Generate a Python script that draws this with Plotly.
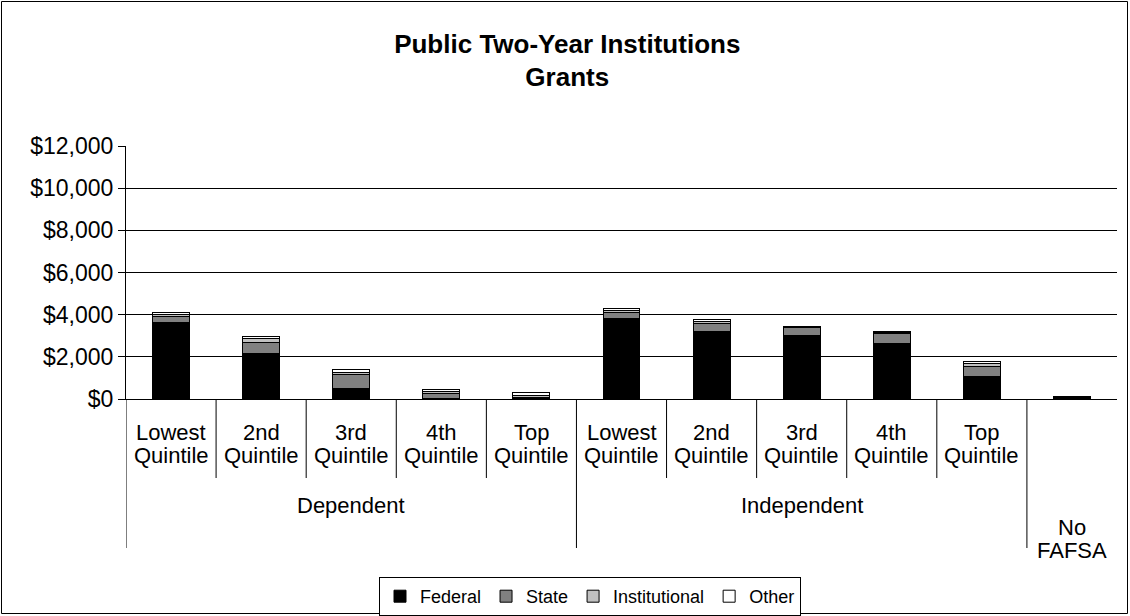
import plotly.graph_objects as go

# Grant amounts by income quintile, stacked by source
categories = ["Lowest<br>Quintile", "2nd<br>Quintile", "3rd<br>Quintile", "4th<br>Quintile", "Top<br>Quintile",
              "Lowest<br>Quintile", "2nd<br>Quintile", "3rd<br>Quintile", "4th<br>Quintile", "Top<br>Quintile",
              ""]
groups = ["Dependent", "Independent", "No<br>FAFSA"]
group_sizes = [5, 5, 1]

federal = [3650, 2140, 490, 40, 20, 3830, 3200, 3000, 2610, 1090, 40]
state = [240, 560, 650, 200, 30, 285, 400, 400, 490, 475, 20]
institutional = [120, 150, 140, 100, 130, 100, 90, 30, 70, 130, 30]
other = [90, 120, 120, 130, 140, 60, 60, 20, 45, 95, 20]

y_ticks = [0, 2000, 4000, 6000, 8000, 10000, 12000]
y_tick_text = ["$0", "$2,000", "$4,000", "$6,000", "$8,000", "$10,000", "$12,000"]

series = [("Federal", federal, "#000000"),
          ("State", state, "#808080"),
          ("Institutional", institutional, "#c0c0c0"),
          ("Other", other, "#ffffff")]

FONT = "Liberation Sans, Arial, sans-serif"
LABEL_SIZE = 22
LINE_GAP = 23
W, H = 1130, 616
ML, MR, MT, MB = 126, 13, 146, 217
PW, PH = W - ML - MR, H - MT - MB

xs = list(range(len(categories)))

fig = go.Figure()
for name, vals, color in series:
    fig.add_trace(go.Bar(
        x=xs, y=vals, name=name, width=0.41,
        marker=dict(color=color, line=dict(color="#000000", width=1)),
    ))


def py(px_below):
    # pixel offset below the plot bottom -> paper coordinate
    return -px_below / PH


shapes = []
group_edges = [-0.5]
acc = -0.5
for n in group_sizes:
    acc += n
    group_edges.append(acc)
# short dividers between categories in the first label row
for i in range(len(categories) - 1):
    b = i + 0.5
    if b in group_edges:
        continue
    shapes.append(dict(type="line", xref="x", yref="paper", x0=b, x1=b, y0=0, y1=py(79),
                       line=dict(color="#000000", width=1)))
# long dividers between groups
for g in group_edges[:-1]:
    shapes.append(dict(type="line", xref="x", yref="paper", x0=g, x1=g, y0=0, y1=py(149),
                       line=dict(color="#000000", width=1)))
# outer chart frame
shapes.append(dict(type="rect", xref="paper", yref="paper",
                   x0=(1.5 - ML) / PW, x1=(W - 2.5 - ML) / PW,
                   y0=-(H - 2.5 - MT - PH) / PH, y1=1 + (MT - 1.5) / PH,
                   line=dict(color="#000000", width=1), fillcolor="rgba(0,0,0,0)"))


def label_lines(x, text, center_px):
    # one annotation per line so the line spacing stays tight
    lines = text.split("<br>")
    first = center_px - (len(lines) - 1) * LINE_GAP / 2
    out = []
    for k, line in enumerate(lines):
        out.append(dict(x=x, y=0, xref="x", yref="paper", text=line, showarrow=False,
                        yanchor="middle", yshift=-(first + k * LINE_GAP),
                        font=dict(size=LABEL_SIZE, color="#000000")))
    return out


annotations = []
for i, lab in enumerate(categories):
    if lab:
        annotations += label_lines(i, lab, 44.5)
start = -0.5
for g, n in zip(groups, group_sizes):
    center = start + n / 2
    start += n
    annotations += label_lines(center, g, 106 if "<br>" not in g else 139.5)

fig.update_layout(
    width=W, height=H,
    margin=dict(l=ML, r=MR, t=MT, b=MB, pad=0, autoexpand=False),
    barmode="stack",
    plot_bgcolor="#ffffff", paper_bgcolor="#ffffff",
    font=dict(family=FONT, size=LABEL_SIZE, color="#000000"),
    title=dict(text="<b>Public Two-Year Institutions<br>Grants</b>", x=0.502, xanchor="center",
               xref="container", y=1 - 52.5 / H, yanchor="middle", font=dict(size=26, color="#000000")),
    xaxis=dict(range=[-0.5, 10.5], showticklabels=False, ticks="", showgrid=False,
               showline=True, linecolor="#000000", linewidth=1, zeroline=False, fixedrange=True),
    yaxis=dict(range=[0, 12000], tickmode="array", tickvals=y_ticks, ticktext=y_tick_text,
               ticks="outside", ticklen=7, tickcolor="#000000",
               showgrid=True, gridcolor="#000000", gridwidth=1,
               showline=True, linecolor="#000000", linewidth=1, zeroline=False,
               tickfont=dict(size=23), fixedrange=True),
    legend=dict(orientation="h", x=(590 - ML) / PW, xanchor="center", y=py(178), yanchor="top",
                bordercolor="#000000", borderwidth=1, font=dict(size=18),
                itemwidth=30, traceorder="normal", tracegroupgap=0),
    shapes=shapes,
    annotations=annotations,
    showlegend=True,
)

fig.write_html("out.html")
